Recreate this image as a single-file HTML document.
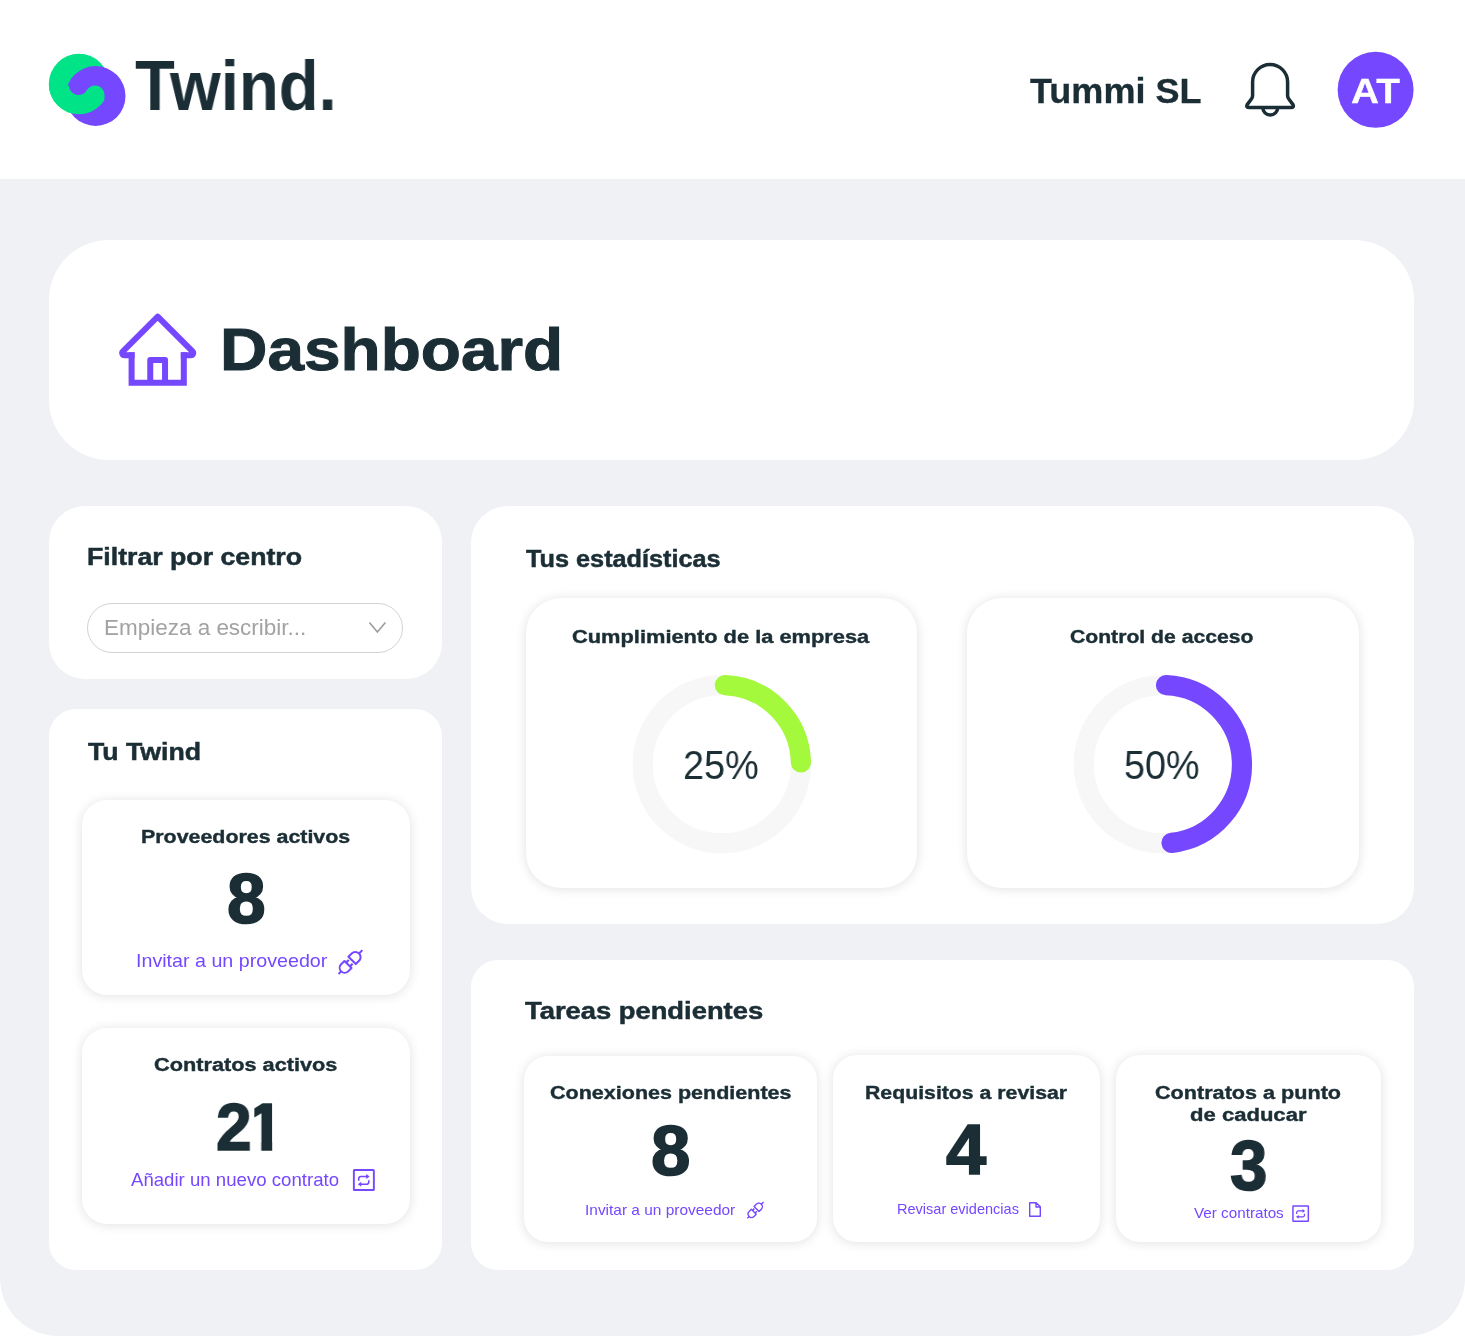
<!DOCTYPE html>
<html lang="es">
<head>
<meta charset="utf-8">
<title>Twind · Dashboard</title>
<style>
*{box-sizing:border-box;margin:0;padding:0}
html,body{width:1465px;height:1337px;overflow:hidden;background:#fff}
body{position:relative;font-family:"Liberation Sans",Arial,sans-serif;color:#1b2e35}
.x{position:absolute;white-space:nowrap;line-height:1;transform-origin:0 0;will-change:transform}
.bg{position:absolute;left:0;top:178.6px;width:1465px;height:1157.4px;background:#f0f1f5;border-radius:0 0 58px 58px}
.card{position:absolute;background:#fff;border-radius:36px}
.sub{position:absolute;background:#fff;border-radius:35px;box-shadow:0 1px 12px rgba(0,0,0,.12)}
svg{position:absolute;left:0;top:0;overflow:visible}
</style>
</head>
<body>
<header>
<svg width="140" height="140" viewBox="0 0 140 140" aria-label="Twind">
<defs><clipPath id="gc"><circle cx="79" cy="84" r="30.2"/></clipPath></defs>
<circle cx="79" cy="84" r="30.2" fill="#00e487"/>
<circle cx="95.6" cy="96" r="29.9" fill="#7547ff"/>
<path clip-path="url(#gc)" fill="#00e487" d="M40 85.5L69 85.5A9.5 9.5 0 0 0 86.75 90.25A9.5 9.5 0 0 1 104.5 95L104.5 130L40 130Z"/>
</svg>
<div class="x" style="left:134.67px;top:51.15px;font-size:70px;font-weight:700;color:#1b2e35;transform:scaleX(0.9318)">Twind.</div>

<div class="x" style="left:1030.0px;top:73.37px;font-size:35px;font-weight:700;color:#1b2e35;-webkit-text-stroke:0.3px #1b2e35;transform:scaleX(1.0301)">Tummi SL</div>

<svg width="1465" height="140" viewBox="0 0 1465 140">
<g transform="translate(1236 56)" fill="none" stroke="#1b2e35" stroke-width="3.5" stroke-linejoin="round">
<path d="M16.6 26A17.5 17.5 0 0 1 51.6 26V39.5Q51.6 41.5 52.8 43L57 48.6Q58.5 51.6 55 51.6H13.2Q9.7 51.6 11.2 48.6L15.4 43Q16.6 41.5 16.6 39.5Z"/>
<path d="M26.8 51.6A7.45 7.45 0 0 0 41.7 51.6"/>
</g>
<circle cx="1375.6" cy="89.8" r="38" fill="#7547ff"/>
</svg>
<div class="x" style="left:1350.51px;top:73.55px;font-size:35.5px;font-weight:700;color:#ffffff;-webkit-text-stroke:0.3px #ffffff;transform:scaleX(1.0932)">AT</div>

</header>

<div class="bg"></div>

<main>
<div class="card" style="left:49px;top:240px;width:1365px;height:220px;border-radius:60px"></div>
<svg width="1465" height="1337" viewBox="0 0 1465 1337">
<g fill="none" stroke="#7547ff" stroke-width="6">
<path d="M134.6 355.35H124.5A2.3 2.3 0 0 1 122.88 351.42L157.7 316.6L192.52 351.42A2.3 2.3 0 0 1 190.9 355.35H180.8" stroke-linejoin="round"/>
<path d="M131.6 352.35V382.75H183.8V352.35" stroke-linejoin="miter"/>
<path d="M150.25 382.75V360.05H165.05V382.75" stroke-linejoin="round"/>
</g>
</svg>
<div class="x" style="left:219.51px;top:320.21px;font-size:60px;font-weight:700;color:#1b2e35;-webkit-text-stroke:1.0px #1b2e35;transform:scaleX(1.0951)">Dashboard</div>


<div class="card" style="left:48.75px;top:505.75px;width:393px;height:173.5px;border-radius:36px"></div>
<div class="x" style="left:87.06px;top:546.01px;font-size:23.5px;font-weight:700;color:#1b2e35;-webkit-text-stroke:0.5px #1b2e35;transform:scaleX(1.1356)">Filtrar por centro</div>

<div style="position:absolute;left:87.2px;top:603.1px;width:315.6px;height:49.6px;border:1.2px solid #d3d3d3;border-radius:25px"></div>
<div class="x" style="left:104.26px;top:617.28px;font-size:22px;font-weight:400;color:#a2a2a2;transform:scaleX(1.0211)">Empieza a escribir...</div>

<svg width="1465" height="1337" viewBox="0 0 1465 1337"><path d="M369.4 622.6L377.4 632.1L385.4 622.6" fill="none" stroke="#9c9c9c" stroke-width="1.6"/></svg>

<div class="card" style="left:48.75px;top:708.75px;width:393px;height:561.5px;border-radius:27px"></div>
<div class="x" style="left:87.6px;top:741.21px;font-size:23.5px;font-weight:700;color:#1b2e35;-webkit-text-stroke:0.5px #1b2e35;transform:scaleX(1.1354)">Tu Twind</div>

<div class="sub" style="left:82px;top:799.75px;width:327.5px;height:195.5px;border-radius:25px"></div>
<div class="x" style="left:140.66px;top:827.79px;font-size:18.8px;font-weight:700;color:#1b2e35;-webkit-text-stroke:0.4px #1b2e35;transform:scaleX(1.1385)">Proveedores activos</div>
<div class="x" style="left:226.61px;top:864.57px;font-size:69.5px;font-weight:700;color:#1b2e35;-webkit-text-stroke:1.6px #1b2e35;transform:scaleX(0.9917)">8</div>
<div class="x" style="left:136.46px;top:951.82px;font-size:18.4px;font-weight:400;color:#7547ff;transform:scaleX(1.0695)">Invitar a un proveedor</div>

<div class="sub" style="left:82px;top:1027.9px;width:327.5px;height:195.8px;border-radius:25px"></div>
<div class="x" style="left:154.0px;top:1055.99px;font-size:18.8px;font-weight:700;color:#1b2e35;-webkit-text-stroke:0.4px #1b2e35;transform:scaleX(1.1563)">Contratos activos</div>
<div class="x" style="left:215.65px;top:1093.16px;font-size:67.5px;font-weight:700;color:#1b2e35;-webkit-text-stroke:1.6px #1b2e35;transform:scaleX(0.9486)">2<span style="display:inline-block;margin-left:-5.68px;transform:scaleX(1.0601);transform-origin:0 0;clip-path:polygon(7.9px 0,25.8px 0,25.8px 100%,14.8px 100%,14.8px 48.6px,7.9px 48.6px)">1</span></div>
<div class="x" style="left:130.7px;top:1170.82px;font-size:18.4px;font-weight:400;color:#7547ff;transform:scaleX(1.0122)">Añadir un nuevo contrato</div>


<div class="card" style="left:470.75px;top:505.75px;width:943px;height:417.75px;border-radius:37px"></div>
<div class="x" style="left:525.5px;top:547.91px;font-size:23.5px;font-weight:700;color:#1b2e35;-webkit-text-stroke:0.5px #1b2e35;transform:scaleX(1.0746)">Tus estadísticas</div>

<div class="sub" style="left:526px;top:598px;width:391.3px;height:290px"></div>
<div class="sub" style="left:967.3px;top:598px;width:391.8px;height:290px"></div>
<div class="x" style="left:572.0px;top:627.69px;font-size:18.8px;font-weight:700;color:#1b2e35;-webkit-text-stroke:0.4px #1b2e35;transform:scaleX(1.1625)">Cumplimiento de la empresa</div>
<div class="x" style="left:1070.4px;top:628.09px;font-size:18.8px;font-weight:700;color:#1b2e35;-webkit-text-stroke:0.4px #1b2e35;transform:scaleX(1.1264)">Control de acceso</div>

<svg width="1465" height="1337" viewBox="0 0 1465 1337">
<circle cx="721.85" cy="764.25" r="79.1" fill="none" stroke="#f7f7f7" stroke-width="20.2"/>
<path d="M724.89 685.21A79.1 79.1 0 0 1 800.93 762.46" fill="none" stroke="#a4f93c" stroke-width="20.2" stroke-linecap="round"/>
<circle cx="1162.85" cy="764.25" r="79.1" fill="none" stroke="#f7f7f7" stroke-width="20.2"/>
<path d="M1166.02 685.21A79.1 79.1 0 0 1 1171.53 842.87" fill="none" stroke="#7547ff" stroke-width="20.2" stroke-linecap="round"/>
</svg>
<div class="x" style="left:682.95px;top:745.19px;font-size:41px;font-weight:400;color:#1b2e35;transform:scaleX(0.9241)">25%</div>
<div class="x" style="left:1123.76px;top:745.19px;font-size:41px;font-weight:400;color:#1b2e35;transform:scaleX(0.9215)">50%</div>


<div class="card" style="left:470.75px;top:959.75px;width:943px;height:310.5px;border-radius:27px"></div>
<div class="x" style="left:524.8px;top:999.91px;font-size:23.5px;font-weight:700;color:#1b2e35;-webkit-text-stroke:0.5px #1b2e35;transform:scaleX(1.1637)">Tareas pendientes</div>

<div class="sub" style="left:524px;top:1055.5px;width:292.7px;height:186.5px;border-radius:24px"></div>
<div class="sub" style="left:833px;top:1054.75px;width:266.7px;height:187.4px;border-radius:24px"></div>
<div class="sub" style="left:1115.75px;top:1054.75px;width:265.3px;height:187.4px;border-radius:24px"></div>
<div class="x" style="left:550.4px;top:1083.79px;font-size:18.8px;font-weight:700;color:#1b2e35;-webkit-text-stroke:0.4px #1b2e35;transform:scaleX(1.1457)">Conexiones pendientes</div>
<div class="x" style="left:650.98px;top:1117.17px;font-size:69.5px;font-weight:700;color:#1b2e35;-webkit-text-stroke:1.6px #1b2e35;transform:scaleX(1.0194)">8</div>
<div class="x" style="left:584.81px;top:1202.98px;font-size:14.2px;font-weight:400;color:#7547ff;transform:scaleX(1.0883)">Invitar a un proveedor</div>

<div class="x" style="left:865.17px;top:1084.49px;font-size:18.8px;font-weight:700;color:#1b2e35;-webkit-text-stroke:0.4px #1b2e35;transform:scaleX(1.132)">Requisitos a revisar</div>
<div class="x" style="left:946.1px;top:1116.17px;font-size:69.5px;font-weight:700;color:#1b2e35;-webkit-text-stroke:1.6px #1b2e35;transform:scaleX(1.041)">4</div>
<div class="x" style="left:896.78px;top:1201.98px;font-size:14.2px;font-weight:400;color:#7547ff;transform:scaleX(1.0237)">Revisar evidencias</div>

<div class="x" style="left:1155.0px;top:1084.49px;font-size:18.8px;font-weight:700;color:#1b2e35;-webkit-text-stroke:0.4px #1b2e35;transform:scaleX(1.1506)">Contratos a punto</div>
<div class="x" style="left:1189.8px;top:1106.19px;font-size:18.8px;font-weight:700;color:#1b2e35;-webkit-text-stroke:0.4px #1b2e35;transform:scaleX(1.1747)">de caducar</div>
<div class="x" style="left:1229.83px;top:1131.77px;font-size:69.5px;font-weight:700;color:#1b2e35;-webkit-text-stroke:1.6px #1b2e35;transform:scaleX(0.9667)">3</div>
<div class="x" style="left:1193.9px;top:1205.88px;font-size:14.2px;font-weight:400;color:#7547ff;transform:scaleX(1.0735)">Ver contratos</div>


<svg width="1465" height="1337" viewBox="0 0 1465 1337">
<g transform="translate(350.05 962.45) rotate(-45) scale(1.0)" fill="none" stroke="#7547ff" stroke-width="2" stroke-linejoin="round">
<path d="M-2.9 -5V5H-7.6A5 5 0 0 1 -7.6 -5Z"/>
<path d="M2.9 -5.2V5.2H7.5A5.2 5.2 0 0 0 7.5 -5.2Z"/>
<path d="M-12.6 0H-16.3M12.7 0H17.4"/>
<path d="M-2.9 -2.7H0.9M-2.9 2.7H0.9" stroke-width="2.2"/>
</g>
<g transform="translate(755.2 1210.35) rotate(-45) scale(0.68)" fill="none" stroke="#7547ff" stroke-width="2" stroke-linejoin="round">
<path d="M-2.9 -5V5H-7.6A5 5 0 0 1 -7.6 -5Z"/>
<path d="M2.9 -5.2V5.2H7.5A5.2 5.2 0 0 0 7.5 -5.2Z"/>
<path d="M-12.6 0H-16.3M12.7 0H17.4"/>
<path d="M-2.9 -2.7H0.9M-2.9 2.7H0.9" stroke-width="2.2"/>
</g>
<g transform="translate(353.85 1170.05) scale(1.0)" fill="none" stroke="#7547ff">
<rect x="0" y="0" width="20" height="20" rx="0.6" stroke-width="1.9"/>
<path d="M4.85 10.6V8.6A2.1 2.1 0 0 1 6.95 6.5H13.2M14.95 10.1V12.1A2.1 2.1 0 0 1 12.85 14.2H6.6" stroke-width="1.6"/>
<path d="M12.4 4.05L15.8 6.5L12.4 8.95Z M7.4 11.75L4 14.2L7.4 16.65Z" fill="#7547ff" stroke="none"/>
</g>
<g transform="translate(1292.95 1205.9) scale(0.77)" fill="none" stroke="#7547ff">
<rect x="0" y="0" width="20" height="20" rx="0.6" stroke-width="1.9"/>
<path d="M4.85 10.6V8.6A2.1 2.1 0 0 1 6.95 6.5H13.2M14.95 10.1V12.1A2.1 2.1 0 0 1 12.85 14.2H6.6" stroke-width="1.6"/>
<path d="M12.4 4.05L15.8 6.5L12.4 8.95Z M7.4 11.75L4 14.2L7.4 16.65Z" fill="#7547ff" stroke="none"/>
</g>
<path d="M1029.7 1202.7H1036.2L1040.3 1206.8V1216.3H1029.7Z M1036 1202.9V1207H1040.1" fill="none" stroke="#7547ff" stroke-width="1.4" stroke-linejoin="round"/>
</svg>
</main>
</body>
</html>
